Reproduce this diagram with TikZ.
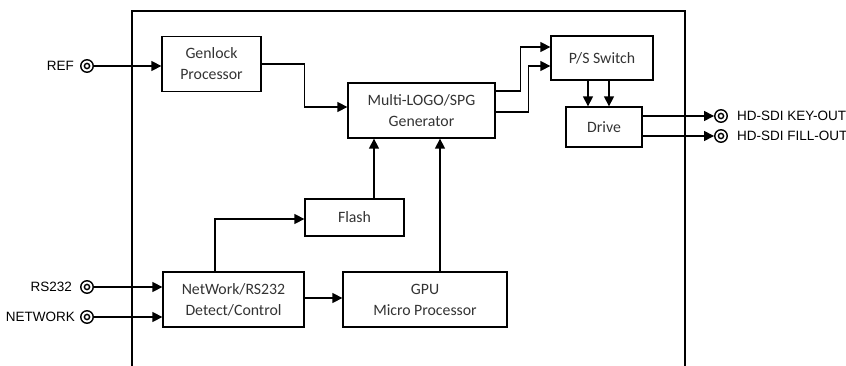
\documentclass[tikz,border=0pt]{standalone}
\usepackage{fontspec}
\setmainfont{Carlito}
\newfontfamily\termfont{Liberation Sans}
\usetikzlibrary{arrows.meta}
\usetikzlibrary{positioning}

\begin{document}
\begin{tikzpicture}
	[
	x=1pt, y=-1pt,
  > = {Triangle[length=10pt,width=10pt]},
  block/.style = {draw, line width=1.3pt, align=center, inner sep=0pt, text=black!80, font=\fontsize{15.8}{21}\selectfont},
  port/.style = {draw, circle, line width=1.4pt, minimum size=12.5pt, inner sep=0pt},
  wire/.style = {line width=1.4pt},
  tag/.style = {inner sep=0pt, font=\termfont\fontsize{13.5}{15}\selectfont}
  ]
	\useasboundingbox (0,0) rectangle (846,366);

	% housing
	\draw[line width=2.6pt] (132,372) |- (685,11) -- (685,372);

	% blocks
	\node[block, minimum width=99pt, minimum height=55pt] (genlock) at (211.5,64) {Genlock\\Processor};
	\node[block, minimum width=147pt, minimum height=55pt] (multi) at (421.5,110.5) {Multi-LOGO/SPG\\Generator};
	\node[block, minimum width=102pt, minimum height=44pt] (ps) at (602,58) {P/S Switch};
	\node[block, minimum width=76pt, minimum height=40pt] (drive) at (604,127) {\raisebox{-5pt}{Drive}};
	\node[block, minimum width=99pt, minimum height=37pt] (flash) at (354.5,217.5) {Flash};
	\node[block, minimum width=141pt, minimum height=55pt] (net) at (233.5,299.5) {NetWork/RS232\\Detect/Control};
	\node[block, minimum width=164pt, minimum height=55pt] (gpu) at (425,299.5) {GPU\\Micro Processor};

	% connectors
	\node[port] (refport) at (87,66) {};
	\node[port] (rsport) at (87,287) {};
	\node[port] (netport) at (87,317) {};
	\node[port] (keyport) at (721,116) {};
	\node[port] (fillport) at (721,136) {};
	\foreach \p in {refport,rsport,netport,keyport,fillport}
		\draw[line width=1.4pt] (\p.center) circle (2.6pt);

	\node[tag, left=6pt of refport] (reftag) {REF};
	\node[tag, left=8pt of rsport] (rstag) {RS232};
	\node[tag, left=5pt of netport] (nettag) {NETWORK};
	\node[tag, right=9pt of keyport] (keytag) {HD-SDI KEY-OUT};
	\node[tag, right=9pt of fillport] (filltag) {HD-SDI FILL-OUT};

	% signal paths
	\draw[wire,->] (refport) -- (refport -| genlock.west);
	\draw[wire,->] (genlock.east) -- ++(43,0) |- ([yshift=3.5pt]multi.west);
	\draw[wire,->] ([yshift=19.5pt]multi.east) -- ++(25,0) |- ([yshift=11pt]ps.west);
	\draw[wire,->] ([yshift=-1.5pt]multi.east) -- ++(33,0) |- ([yshift=-8pt]ps.west);
	\draw[wire,->] ([xshift=-14pt]ps.south) -- ([xshift=-14pt]ps.south |- drive.north);
	\draw[wire,->] ([xshift=7pt]ps.south) -- ([xshift=7pt]ps.south |- drive.north);
	\draw[wire,->] (keyport.west -| drive.east) -- (keyport.west);
	\draw[wire,->] (fillport.west -| drive.east) -- (fillport.west);

	\draw[wire,->] (rsport) -- (rsport -| net.west);
	\draw[wire,->] (netport) -- (netport -| net.west);
	\draw[wire,->] ([xshift=-18.5pt]net.north) |- ([yshift=-1.5pt]flash.west);
	\draw[wire,->] ([xshift=19.5pt]flash.north) -- ([xshift=19.5pt]flash.north |- multi.south);
	\draw[wire,->] ([yshift=1.5pt]net.east) -- ([yshift=1.5pt]net.east -| gpu.west);
	\draw[wire,->] ([xshift=15pt]gpu.north) -- ([xshift=15pt]gpu.north |- multi.south);
	\end{tikzpicture}
\end{document}
